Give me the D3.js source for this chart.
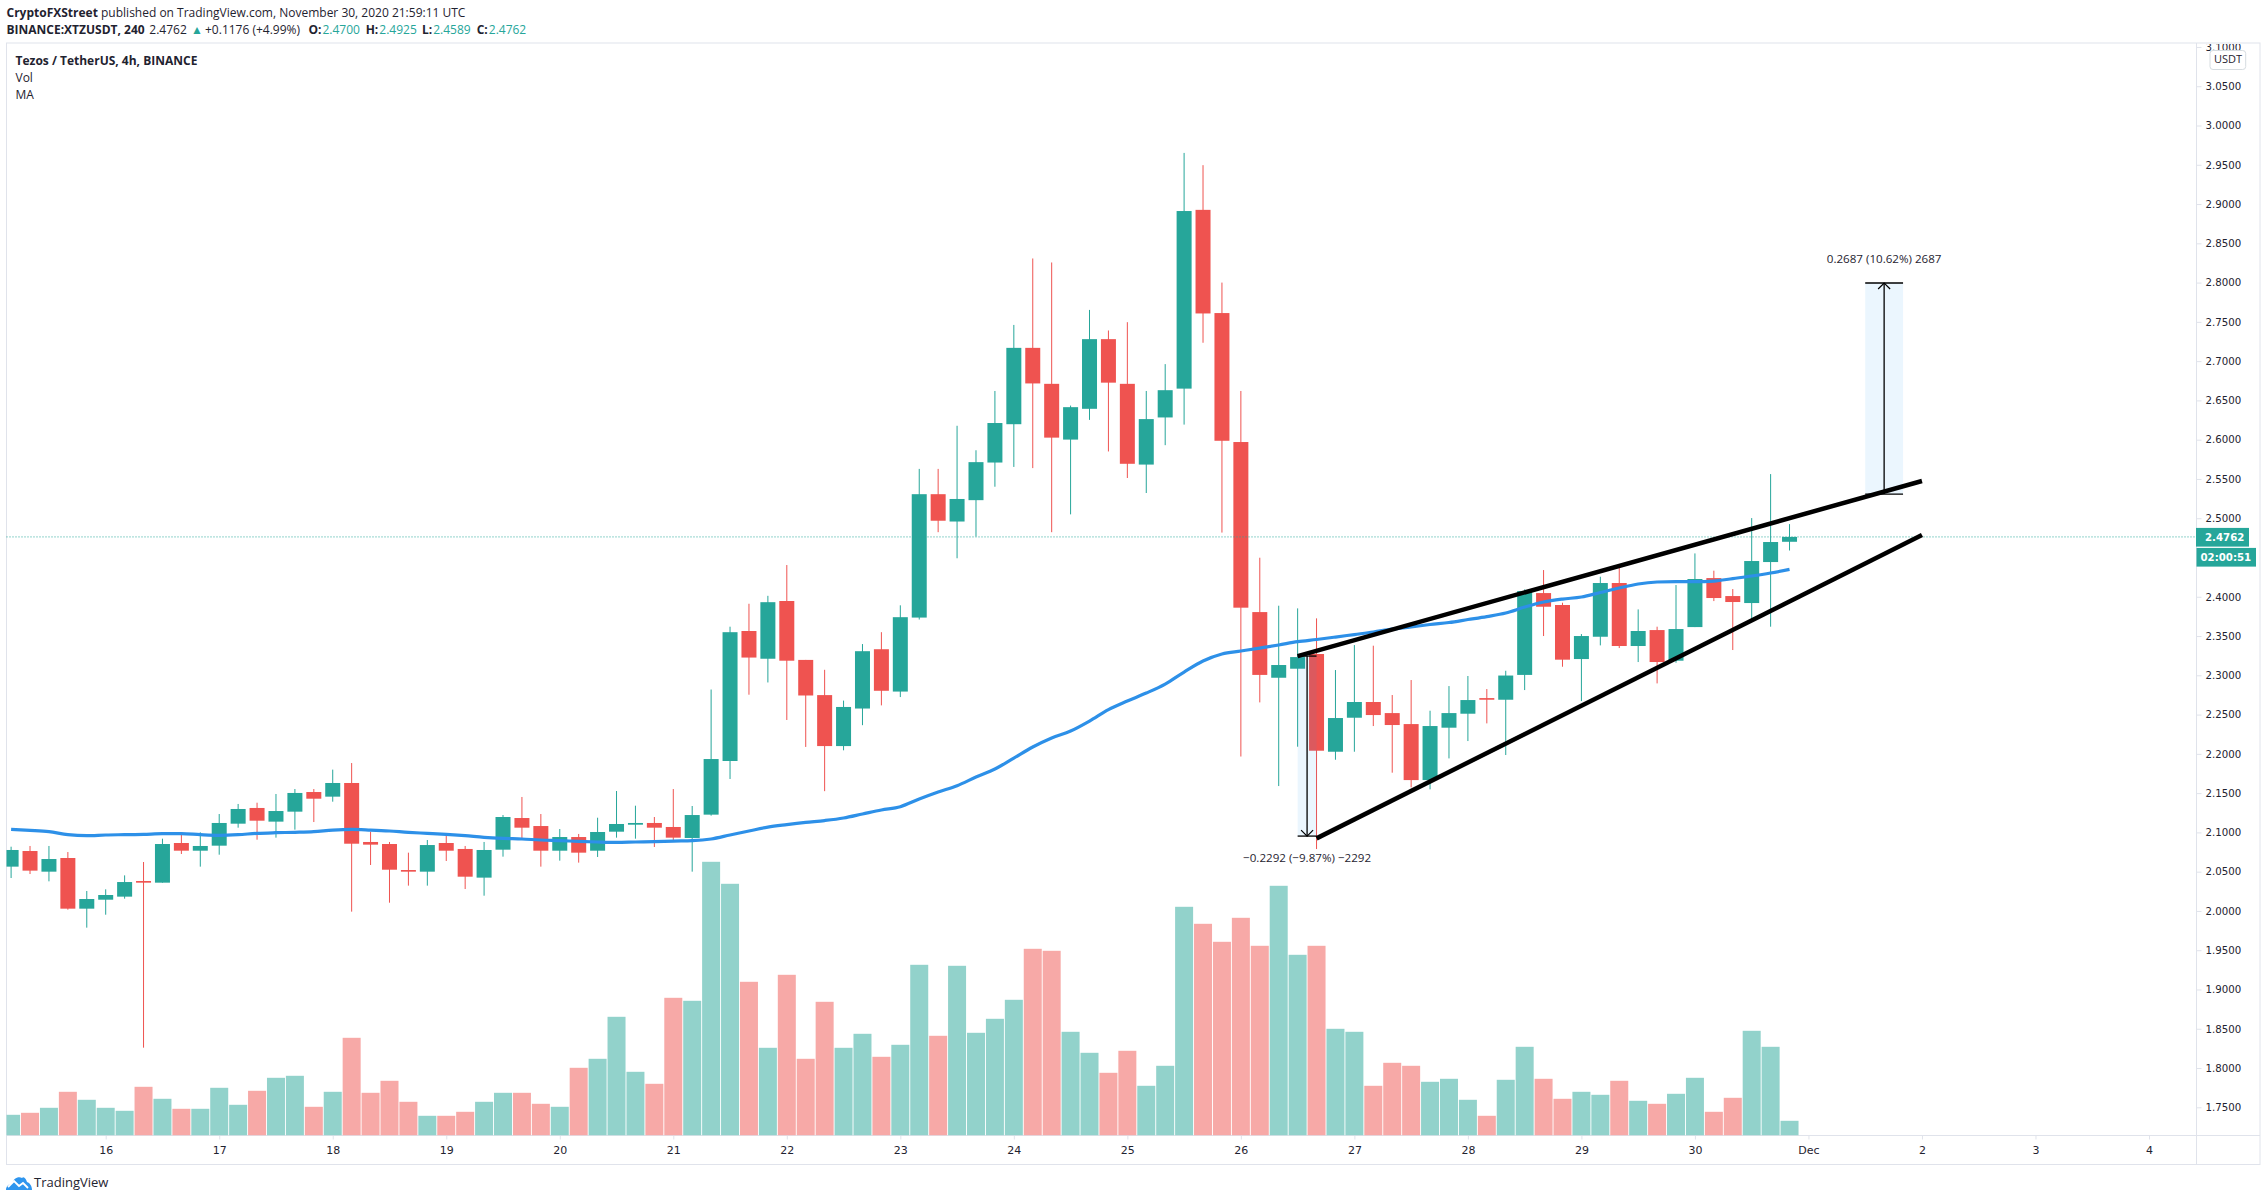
<!DOCTYPE html>
<html>
<head>
<meta charset="utf-8">
<title>XTZUSDT 4h</title>
<script src="https://cdnjs.cloudflare.com/ajax/libs/d3/7.8.5/d3.min.js"></script>
<style>
  html, body { margin: 0; padding: 0; background: #fff; }
  svg { display: block; }
  text { font-family: "Open Sans", sans-serif; fill: #1f2330; }
</style>
</head>
<body>
<div id="chart"></div>
<script>
// 4h candles, first one is Nov 15 04:00 UTC
var opens = [
  2.0564,2.0763,2.0500,2.0674,2.0029,2.0143,2.0182,2.0381,2.0360,2.0865,
  2.0767,2.0831,2.1111,2.1311,2.1137,2.1264,2.1514,2.1455,2.1629,2.0878,
  2.0852,2.0521,2.0500,2.0865,2.0789,2.0424,2.0780,2.1183,2.1081,2.0767,
  2.0941,2.0767,2.1009,2.1098,2.1120,2.1069,2.0929,2.1226,2.1909,2.3564,
  2.3211,2.3946,2.3196,2.2748,2.2099,2.2577,2.3332,2.2793,2.3735,2.5306,
  2.4958,2.5230,2.5709,2.6197,2.7169,2.6711,2.6001,2.6393,2.7280,2.6711,
  2.5683,2.6283,2.6650,2.8926,2.7612,2.5970,2.3805,2.2969,2.3084,2.3271,
  2.2027,2.2460,2.2660,2.2519,2.2379,2.1666,2.2333,2.2511,2.2710,2.2689,
  2.3005,2.4047,2.3895,2.3207,2.3491,2.4175,2.3373,2.3576,2.3186,2.3614,
  2.4238,2.4009,2.3920,2.4442,2.4700
];
var closes = [
  2.0776,2.0513,2.0661,2.0029,2.0152,2.0203,2.0368,2.0360,2.0852,2.0767,
  2.0827,2.1120,2.1298,2.1149,2.1272,2.1502,2.1429,2.1629,2.0856,2.0844,
  2.0525,2.0500,2.0839,2.0767,2.0436,2.0776,2.1196,2.1060,2.0767,2.0941,
  2.0742,2.1005,2.1107,2.1120,2.1060,2.0933,2.1221,2.1934,2.3549,2.3226,
  2.3931,2.3186,2.2743,2.2099,2.2597,2.3307,2.2803,2.3740,2.5306,2.4968,
  2.5245,2.5714,2.6212,2.7169,2.6716,2.6026,2.6414,2.7280,2.6726,2.5693,
  2.6262,2.6630,2.8911,2.7607,2.5986,2.3861,2.3005,2.3131,2.3232,2.2040,
  2.2456,2.2660,2.2494,2.2367,2.1666,2.2354,2.2519,2.2685,2.2689,2.2997,
  2.4073,2.3873,2.3199,2.3500,2.4175,2.3373,2.3564,2.3169,2.3589,2.4226,
  2.3984,2.3933,2.4455,2.4697,2.4762
];
var highs = [
  2.0818,2.0827,2.0827,2.0750,2.0254,2.0275,2.0453,2.0623,2.0920,2.0988,
  2.1001,2.1234,2.1362,2.1378,2.1489,2.1552,2.1552,2.1799,2.1883,2.1009,
  2.0878,2.0742,2.0903,2.0980,2.0827,2.0878,2.1221,2.1451,2.1234,2.1043,
  2.0980,2.1187,2.1527,2.1340,2.1196,2.1552,2.1336,2.2819,2.3619,2.3911,
  2.4012,2.4404,2.3196,2.3070,2.2678,2.3398,2.3549,2.3891,2.5628,2.5628,
  2.6177,2.5865,2.6620,2.7461,2.8307,2.8256,2.6434,2.7652,2.7390,2.7496,
  2.6620,2.6962,2.9651,2.9495,2.8000,2.6620,2.4497,2.3886,2.3852,2.3725,
  2.3067,2.3385,2.3377,2.2749,2.2940,2.2549,2.2863,2.2991,2.2825,2.3058,
  2.4094,2.4340,2.3924,2.3525,2.4255,2.4404,2.3839,2.3619,2.4149,2.4552,
  2.4332,2.4098,2.5002,2.5562,2.4925
];
var lows = [
  2.0419,2.0470,2.0377,2.0016,1.9787,1.9952,2.0156,1.8259,2.0360,2.0725,
  2.0564,2.0716,2.1060,2.0907,2.0933,2.1035,2.1132,2.1391,1.9991,2.0585,
  2.0105,2.0322,2.0322,2.0636,2.0279,2.0194,2.0691,2.0903,2.0564,2.0640,
  2.0615,2.0687,2.0933,2.0920,2.0814,2.0895,2.0500,2.1213,2.1680,2.2753,
  2.2909,2.2431,2.2088,2.1525,2.2045,2.2365,2.2617,2.2723,2.3710,2.4822,
  2.4490,2.4767,2.5401,2.5653,2.5638,2.4822,2.5049,2.6252,2.5850,2.5512,
  2.5321,2.5930,2.6192,2.7234,2.4817,2.1966,2.2655,2.1590,2.2091,2.0788,
  2.1925,2.2027,2.2354,2.1760,2.1573,2.1548,2.1942,2.2163,2.2388,2.1985,
  2.2812,2.3500,2.3109,2.2672,2.3381,2.3347,2.3169,2.2897,2.3160,2.3614,
  2.3945,2.3322,2.3704,2.3619,2.4589
];
var volumes = [
  20.7,22.7,27.7,43.7,35.7,27.7,24.7,48.7,36.7,26.7,
  26.7,47.7,30.7,44.7,57.7,59.7,28.7,43.7,97.7,42.7,
  54.7,33.7,19.7,19.7,23.7,33.7,42.7,42.7,31.7,28.7,
  67.7,76.7,118.7,63.7,51.7,137.7,134.7,273.7,251.7,153.7,
  87.7,160.7,76.7,133.7,87.7,101.7,78.7,90.7,170.7,99.7,
  169.7,102.7,116.7,135.7,186.7,184.7,103.7,82.7,62.7,84.7,
  49.7,69.7,228.7,211.7,193.7,217.7,189.7,249.7,180.7,189.7,
  106.7,103.7,49.7,72.7,69.7,53.7,56.7,35.7,19.7,55.7,
  88.7,56.7,36.7,43.7,40.7,54.7,34.7,31.7,41.7,57.7,
  23.7,37.7,104.7,88.7,14.7
];
var maValues = [
  2.1039,2.1026,2.1009,2.0971,2.0958,2.0967,2.0971,2.0975,2.0984,2.0984,
  2.0971,2.0963,2.0971,2.0988,2.0996,2.1001,2.1009,2.1030,2.1039,2.1030,
  2.1018,2.1001,2.0988,2.0975,2.0958,2.0937,2.0924,2.0916,2.0903,2.0895,
  2.0886,2.0878,2.0873,2.0878,2.0882,2.0890,2.0895,2.0916,2.0967,2.1018,
  2.1068,2.1100,2.1128,2.1151,2.1183,2.1234,2.1285,2.1327,2.1425,2.1514,
  2.1595,2.1705,2.1807,2.1947,2.2087,2.2202,2.2291,2.2418,2.2564,2.2673,
  2.2774,2.2889,2.3042,2.3182,2.3271,2.3309,2.3347,2.3386,2.3428,2.3456,
  2.3487,2.3519,2.3551,2.3589,2.3615,2.3647,2.3672,2.3710,2.3748,2.3793,
  2.3869,2.3933,2.3971,2.3997,2.4054,2.4111,2.4162,2.4188,2.4194,2.4192,
  2.4200,2.4232,2.4264,2.4302,2.4349
];

var priceTicks = [3.10,3.05,3.00,2.95,2.90,2.85,2.80,2.75,2.70,2.65,2.60,2.55,2.50,2.40,2.35,2.30,2.25,2.20,2.15,2.10,2.05,2.00,1.95,1.90,1.85,1.80,1.75];
var dayTicks = ["2020-11-16","2020-11-17","2020-11-18","2020-11-19","2020-11-20","2020-11-21","2020-11-22","2020-11-23","2020-11-24","2020-11-25","2020-11-26","2020-11-27","2020-11-28","2020-11-29","2020-11-30","2020-12-01","2020-12-02","2020-12-03","2020-12-04"];
var dayLabels = ["16","17","18","19","20","21","22","23","24","25","26","27","28","29","30","Dec","2","3","4"];

var lastPrice = 2.4762;

// drawings on the chart, bar index + price
var upperLine = [[68, 2.3245], [101, 2.5474]];
var lowerLine = [[69, 2.0924], [101, 2.4786]];
var downMeasure = { from: 68, to: 69, top: 2.3245, bottom: 2.0953, label: "\u22120.2292 (\u22129.87%) \u22122292" };
var upMeasure = { from: 98, to: 100, top: 2.7995, bottom: 2.5308, label: "0.2687 (10.62%) 2687" };

var svgWidth = 2267;
var svgHeight = 1201;
var panel = { left: 6.5, top: 43, right: 2196.5, bottom: 1135.5, outerRight: 2260, outerBottom: 1164.5 };

var green = "#26a69a";
var red = "#ef5350";
var gridColor = "#e0e3eb";

var svg = d3.select("#chart")
  .append("svg")
  .attr("width", svgWidth)
  .attr("height", svgHeight);

// Scales
var barMs = 4 * 3600 * 1000;
var firstBar = Date.UTC(2020, 10, 15, 4);
function barTime(i) { return new Date(firstBar + i * barMs); }

var xScale = d3.scaleUtc()
  .domain([new Date(Date.UTC(2020, 10, 16)), new Date(Date.UTC(2020, 11, 4))])
  .range([105.7, 2149]);
var yScale = d3.scaleLinear()
  .domain([3, 1.75])
  .range([125.5, 1107.3]);
var volScale = d3.scaleLinear()
  .domain([0, 300])
  .range([panel.bottom, panel.bottom - 300]);

function xBar(i) { return xScale(barTime(i)); }

var defs = svg.append("defs");
defs.append("clipPath").attr("id", "pane")
  .append("rect")
  .attr("x", panel.left)
  .attr("y", panel.top)
  .attr("width", panel.right - panel.left)
  .attr("height", panel.bottom - panel.top);
defs.append("clipPath").attr("id", "priceClip")
  .append("rect")
  .attr("x", 0)
  .attr("y", panel.top + 1)
  .attr("width", 70)
  .attr("height", panel.bottom);

// Frame
var frame = svg.append("g").attr("fill", "none").attr("stroke", gridColor).attr("stroke-width", 1);
frame.append("rect")
  .attr("x", panel.left)
  .attr("y", panel.top)
  .attr("width", panel.outerRight - panel.left)
  .attr("height", panel.outerBottom - panel.top);
frame.append("line")
  .attr("x1", panel.right).attr("x2", panel.right)
  .attr("y1", panel.top).attr("y2", panel.outerBottom);
frame.append("line")
  .attr("x1", panel.left).attr("x2", panel.outerRight)
  .attr("y1", panel.bottom).attr("y2", panel.bottom);

// Time axis
var timeAxis = d3.axisBottom(xScale)
  .tickValues(dayTicks.map(function(d) { return new Date(d + "T00:00:00Z"); }))
  .tickFormat(function(d, i) { return dayLabels[i]; })
  .tickSize(4)
  .tickPadding(7);
var timeG = svg.append("g")
  .attr("transform", "translate(0," + panel.bottom + ")")
  .call(timeAxis);
timeG.select(".domain").remove();
timeG.selectAll("line").attr("stroke", gridColor);
timeG.selectAll("text")
  .attr("font-size", 11)
  .style("font-family", "'DejaVu Sans', sans-serif")
  .style("fill", "#1f2330");

// Price axis, the top label is cut by the pane edge
var priceAxis = d3.axisRight(yScale)
  .tickValues(priceTicks)
  .tickFormat(d3.format(".4f"))
  .tickSize(5)
  .tickPadding(4);
var priceG = svg.append("g")
  .attr("transform", "translate(" + panel.right + ",0)")
  .attr("clip-path", "url(#priceClip)")
  .call(priceAxis);
priceG.select(".domain").remove();
priceG.selectAll("line").attr("stroke", gridColor);
priceG.selectAll("text")
  .attr("font-size", 10.2)
  .style("font-family", "'DejaVu Sans', sans-serif")
  .style("fill", "#1f2330");

// Chart marks
var pane = svg.append("g").attr("clip-path", "url(#pane)");

pane.append("g").selectAll("rect")
  .data(volumes)
  .enter()
  .append("rect")
  .attr("x", function(d, i) { return xBar(i) - 9; })
  .attr("width", 18)
  .attr("y", function(d) { return volScale(d); })
  .attr("height", function(d) { return volScale(0) - volScale(d); })
  .attr("fill", function(d, i) { return closes[i] >= opens[i] ? "#92d2cb" : "#f7a9a7"; });

pane.append("g").selectAll("line")
  .data(opens)
  .enter()
  .append("line")
  .attr("x1", function(d, i) { return xBar(i); })
  .attr("x2", function(d, i) { return xBar(i); })
  .attr("y1", function(d, i) { return yScale(highs[i]); })
  .attr("y2", function(d, i) { return yScale(lows[i]); })
  .attr("stroke", function(d, i) { return closes[i] >= opens[i] ? green : red; })
  .attr("stroke-width", 1);

pane.append("g").selectAll("rect")
  .data(opens)
  .enter()
  .append("rect")
  .attr("x", function(d, i) { return xBar(i) - 7.5; })
  .attr("width", 15)
  .attr("y", function(d, i) { return yScale(Math.max(d, closes[i])); })
  .attr("height", function(d, i) { return Math.max(1.5, Math.abs(yScale(d) - yScale(closes[i]))); })
  .attr("fill", function(d, i) { return closes[i] >= opens[i] ? green : red; });

var maLine = d3.line()
  .x(function(d, i) { return xBar(i); })
  .y(function(d) { return yScale(d); })
  .curve(d3.curveMonotoneX);

pane.append("path")
  .datum(maValues)
  .attr("d", maLine)
  .attr("fill", "none")
  .attr("stroke", "#2d90e8")
  .attr("stroke-width", 3.2);

// Last price line
svg.append("line")
  .attr("x1", panel.left)
  .attr("x2", panel.right)
  .attr("y1", yScale(lastPrice))
  .attr("y2", yScale(lastPrice))
  .attr("stroke", green)
  .attr("stroke-width", 1)
  .attr("stroke-dasharray", "1 2");

// Measure tools
function drawMeasure(m, isUp, labelY) {
  var g = svg.append("g");
  var x0 = xBar(m.from);
  var x1 = xBar(m.to);
  var mid = (x0 + x1) / 2;
  var yTop = yScale(m.top);
  var yBottom = yScale(m.bottom);
  var tipY = isUp ? yTop : yBottom;
  var dir = isUp ? 1 : -1;

  g.append("rect")
    .attr("x", x0)
    .attr("y", yTop)
    .attr("width", x1 - x0)
    .attr("height", yBottom - yTop)
    .attr("fill", "#2196f3")
    .attr("fill-opacity", 0.09);
  g.append("line")
    .attr("x1", mid).attr("x2", mid)
    .attr("y1", yTop).attr("y2", yBottom)
    .attr("stroke", "#000").attr("stroke-width", 1.3);
  [yTop, yBottom].forEach(function(y) {
    g.append("line")
      .attr("x1", x0).attr("x2", x1)
      .attr("y1", y).attr("y2", y)
      .attr("stroke", "#000").attr("stroke-width", 1.3);
  });
  g.append("path")
    .attr("d", "M" + (mid - 6) + "," + (tipY + dir * 6) + "L" + mid + "," + tipY + "L" + (mid + 6) + "," + (tipY + dir * 6))
    .attr("fill", "none")
    .attr("stroke", "#000")
    .attr("stroke-width", 1.2);
  g.append("text")
    .attr("x", mid)
    .attr("y", labelY)
    .attr("text-anchor", "middle")
    .attr("dominant-baseline", "middle")
    .attr("font-size", 11.6)
    .text(m.label);
}
drawMeasure(downMeasure, false, 859);
drawMeasure(upMeasure, true, 260);

// Trend lines
function trendPath(pts) {
  return d3.line()
    .x(function(d) { return xBar(d[0]); })
    .y(function(d) { return yScale(d[1]); })(pts);
}
[upperLine, lowerLine].forEach(function(pts) {
  svg.append("path")
    .attr("d", trendPath(pts))
    .attr("fill", "none")
    .attr("stroke", "#000")
    .attr("stroke-width", 4.5);
});

// Price labels on the axis
svg.append("rect")
  .attr("x", 2196).attr("y", yScale(lastPrice) - 9)
  .attr("width", 53).attr("height", 18.7)
  .attr("fill", green);
svg.append("rect")
  .attr("x", 2196.5).attr("y", yScale(lastPrice) + 11)
  .attr("width", 59.5).attr("height", 18.7)
  .attr("fill", green);
svg.append("text")
  .attr("x", 2205).attr("y", yScale(lastPrice) + 1)
  .attr("dominant-baseline", "middle")
  .attr("font-size", 10.2)
  .attr("font-weight", 700)
  .style("font-family", "'DejaVu Sans', sans-serif")
  .style("fill", "#fff")
  .text(d3.format(".4f")(lastPrice));
svg.append("text")
  .attr("x", 2200.5).attr("y", yScale(lastPrice) + 21)
  .attr("dominant-baseline", "middle")
  .attr("font-size", 10.2)
  .attr("font-weight", 700)
  .style("font-family", "'DejaVu Sans', sans-serif")
  .style("fill", "#fff")
  .text("02:00:51");

// USDT box
svg.append("rect")
  .attr("x", 2210).attr("y", 50.5)
  .attr("width", 35.7).attr("height", 19)
  .attr("rx", 3)
  .attr("fill", "#fff")
  .attr("stroke", "#d6dce0");
svg.append("text")
  .attr("x", 2228).attr("y", 60.5)
  .attr("text-anchor", "middle")
  .attr("dominant-baseline", "middle")
  .attr("font-size", 11)
  .text("USDT");

// Header lines
var header1 = svg.append("text").attr("x", 6.5).attr("y", 17).attr("font-size", 12);
header1.append("tspan").attr("font-weight", 700).text("CryptoFXStreet");
header1.append("tspan").text(" published on TradingView.com, November 30, 2020 21:59:11 UTC");

var header2 = svg.append("text").attr("y", 34).attr("font-size", 12);
header2.append("tspan").attr("x", 6.5).attr("font-weight", 700).text("BINANCE:XTZUSDT, 240");
header2.append("tspan").attr("x", 149.3).text("2.4762");
header2.append("tspan").attr("x", 191).style("fill", green).text("\u25B2");
header2.append("tspan").attr("x", 205).text("+0.1176 (+4.99%)");
[["O:", "2.4700", 308.5], ["H:", "2.4925", 365.7], ["L:", "2.4589", 422], ["C:", "2.4762", 476.7]].forEach(function(p) {
  header2.append("tspan").attr("x", p[2]).attr("font-weight", 700).text(p[0]);
  header2.append("tspan").attr("dx", 1).style("fill", green).text(p[1]);
});

// Legend
svg.append("text").attr("x", 15.5).attr("y", 65).attr("font-size", 12).attr("font-weight", 700).text("Tezos / TetherUS, 4h, BINANCE");
svg.append("text").attr("x", 15.5).attr("y", 82).attr("font-size", 12).text("Vol");
svg.append("text").attr("x", 15.5).attr("y", 99).attr("font-size", 12).text("MA");

// TradingView logo
var logo = svg.append("g").attr("transform", "translate(6,1175)");
logo.append("path")
  .attr("d", "M0,15 C0,11 3,9 6,9 C7,4 12,1 16,3 C18,1 20,4 21,7 C24,8 26,11 26,15 L0,15 Z")
  .attr("fill", "#2e95ee");
logo.append("path")
  .attr("d", "M2,12 L8,6 L13,11 L17,8 L22,13")
  .attr("fill", "none")
  .attr("stroke", "#fff")
  .attr("stroke-width", 1.8);
svg.append("text").attr("x", 34).attr("y", 1187).attr("font-size", 13).text("TradingView");
</script>
</body>
</html>
